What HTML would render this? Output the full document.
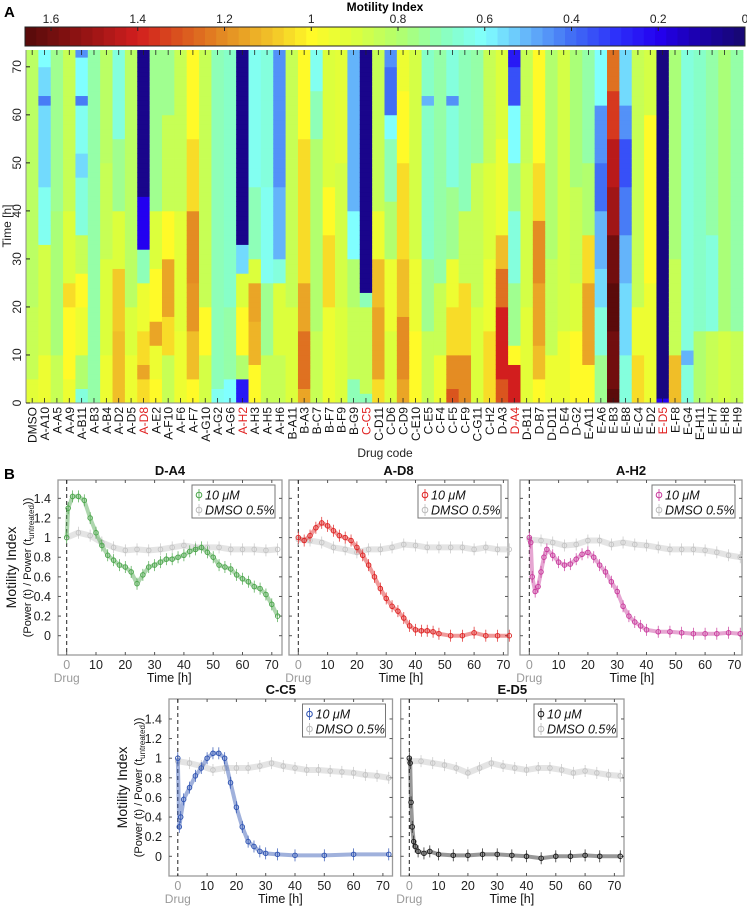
<!DOCTYPE html>
<html><head><meta charset="utf-8"><style>
html,body{margin:0;padding:0;background:#fff;}
svg{display:block;font-family:"Liberation Sans",Arial,sans-serif;}
</style></head><body>
<svg id="fig" width="747" height="906" viewBox="0 0 747 906" xmlns="http://www.w3.org/2000/svg">
<text x="4" y="17" font-size="15" font-weight="bold">A</text>
<text x="4" y="479" font-size="15" font-weight="bold">B</text>
<text x="385" y="11" font-size="12" font-weight="bold" text-anchor="middle">Motility Index</text>
<g id="cbar"></g>
<g id="heat"></g>
<g id="lines"></g>
</svg>
<script>
const NS="http://www.w3.org/2000/svg";
function mk(tag,attrs,parent){const e=document.createElementNS(NS,tag);for(const k in attrs)e.setAttribute(k,attrs[k]);parent.appendChild(e);return e;}

// ---------- Heatmap data ----------
const drugCodes=["DMSO","A-A10","A-A5","A-A9","A-B11","A-B3","A-B4","A-D2","A-D5","A-D8","A-E2","A-F10","A-F6","A-F7","A-G10","A-G2","A-G6","A-H2","A-H3","A-H5","A-H6","B-A11","B-A3","B-C7","B-F7","B-F9","B-G9","C-C5","C-D11","C-D6","C-D9","C-E10","C-E5","C-F4","C-F5","C-F9","C-G11","C-H2","D-A3","D-A4","D-B11","D-B7","D-D11","D-E4","D-G2","E-A11","E-A6","E-B3","E-B8","E-C4","E-D2","E-D5","E-F8","E-G4","E-H11","E-H7","E-H8","E-H9"];
const highlighted=["A-D8","A-H2","C-C5","D-A4","E-D5"];
const timeTicks=[0,10,20,30,40,50,60,70];
const cbarTicks=[1.6,1.4,1.2,1,0.8,0.6,0.4,0.2,0];
const profiles=[
[[0,0.92],[5,0.85],[20,0.82]],
[[0,0.95],[10,0.88],[33,0.62],[45,0.55],[62,0.42],[64,0.55],[70,0.6]],
[[0,0.85],[10,0.78],[40,0.75]],
[[0,0.95],[5,1.0],[20,1.05],[25,0.9],[40,0.85]],
[[0,0.65],[3,0.8],[10,0.95],[20,1.0],[27,0.85],[35,0.65],[47,0.55],[52,0.62],[62,0.42],[64,0.6],[72,0.45]],
[[0,0.72]],
[[0,0.95],[10,0.9],[30,0.85],[50,0.82]],
[[0,1.1],[15,1.08],[28,0.9],[40,0.75],[55,0.65]],
[[0,0.95],[10,0.9],[20,0.82]],
[[0,1.05],[5,1.15],[8,1.05],[15,0.95],[25,0.7],[32,0.2],[43,0.05]],
[[0,1.0],[5,0.95],[12,1.15],[17,1.0],[28,0.9],[40,0.75]],
[[0,0.85],[10,1.05],[18,1.15],[30,1.0],[40,0.85],[60,0.75]],
[[0,0.95],[15,0.92],[40,0.85]],
[[0,1.0],[5,1.1],[15,1.18],[25,1.2],[40,1.05],[55,1.0]],
[[0,0.88],[10,1.0],[20,0.85]],
[[0,0.62],[3,0.7]],
[[0,0.6],[5,0.72],[20,0.68]],
[[0,0.25],[5,0.8],[10,1.0],[20,0.9],[27,0.55],[33,0.05]],
[[0,1.0],[8,1.12],[17,1.15],[25,0.9],[30,0.7],[45,0.62]],
[[0,0.85],[10,0.75],[25,0.62],[45,0.65]],
[[0,0.85],[10,0.9],[25,0.65],[30,0.5],[45,0.45]],
[[0,0.9],[20,0.85]],
[[0,1.15],[3,1.25],[15,1.15],[25,1.05],[55,1.0]],
[[0,0.85],[15,0.8],[55,0.7],[65,0.62]],
[[0,0.95],[20,1.05],[35,1.0],[45,0.9]],
[[0,0.9],[20,0.88],[50,0.92]],
[[0,0.7],[5,0.85],[20,0.8],[30,0.6],[40,0.5]],
[[0,0.7],[2,0.85],[20,0.7],[23,0.05]],
[[0,1.05],[5,1.15],[20,1.1],[30,0.95],[40,0.85]],
[[0,0.9],[15,0.95],[30,0.8],[42,0.7],[55,0.6],[60,0.4],[70,0.45]],
[[0,1.15],[5,1.2],[18,1.1],[30,1.05],[50,1.0],[65,0.95]],
[[0,1.0],[15,0.95],[30,0.88]],
[[0,0.85],[15,0.75],[30,0.68],[62,0.5],[64,0.68]],
[[0,0.95],[10,0.85],[25,0.72]],
[[0,1.3],[3,1.2],[10,1.05],[20,0.95],[30,0.75],[45,0.65],[62,0.45],[64,0.65]],
[[0,1.2],[10,1.05],[25,0.85],[40,0.7]],
[[0,0.9],[20,0.85],[50,0.72]],
[[0,1.05],[15,0.95],[30,0.9],[50,0.85]],
[[0,1.3],[5,1.4],[20,1.25],[28,1.1],[35,0.95],[55,0.9]],
[[0,1.4],[8,1.0],[12,0.75],[25,0.65],[40,0.75],[50,0.6],[62,0.35],[70,0.25]],
[[0,0.92],[20,0.88],[50,0.85]],
[[0,1.0],[5,1.1],[12,1.15],[25,1.2],[38,1.05],[50,1.0]],
[[0,0.95],[10,0.85],[30,0.8]],
[[0,0.95],[15,0.88]],
[[0,1.0],[15,0.9],[25,0.85],[45,0.78]],
[[0,1.0],[8,1.15],[25,1.05],[35,0.8],[50,0.72]],
[[0,0.75],[10,0.65],[20,0.55],[28,0.5],[40,0.4],[50,0.45],[62,0.6]],
[[0,1.65],[3,1.6],[15,1.65],[25,1.6],[35,1.5],[45,1.45],[55,1.35],[65,1.25]],
[[0,0.65],[10,0.55],[25,0.5],[35,0.42],[45,0.35],[55,0.45],[62,0.55]],
[[0,1.05],[10,0.95],[20,0.85]],
[[0,0.95],[25,1.0],[45,1.0],[60,0.88]],
[[0,0.2],[1.5,0.03]],
[[0,1.1],[10,0.85],[30,0.78]],
[[0,0.65],[8,0.5],[11,0.65]],
[[0,0.8],[15,0.68]],
[[0,0.85],[15,0.65],[35,0.72]],
[[0,0.88],[15,0.78]],
[[0,0.85],[15,0.72]]
];

const cmStops=[[0,[22,8,110]],[0.12,[28,0,180]],[0.2,[35,0,240]],[0.3,[45,50,250]],[0.4,[65,110,245]],[0.5,[100,180,250]],[0.6,[128,255,255]],[0.68,[135,255,200]],[0.78,[170,255,120]],[0.9,[220,255,60]],[1.0,[255,250,40]],[1.1,[240,190,40]],[1.2,[228,140,35]],[1.3,[218,85,30]],[1.4,[210,30,30]],[1.52,[150,20,20]],[1.66,[85,10,10]]];
function cmap(v){v=Math.max(0,Math.min(1.66,v));for(let i=1;i<cmStops.length;i++){if(v<=cmStops[i][0]){const a=cmStops[i-1],b=cmStops[i],f=(v-a[0])/(b[0]-a[0]);const c=a[1].map((x,j)=>Math.round(x+(b[1][j]-x)*f));return`rgb(${c[0]},${c[1]},${c[2]})`;}}return"rgb(85,10,10)";}

const cb=document.getElementById('cbar');
const cbL=25,cbR=745,cbT=27,cbB=46,vMax=1.66;
const cbX=v=>cbR-(v/vMax)*(cbR-cbL);
const nb=64;
for(let i=0;i<nb;i++){const v=vMax*(1-(i+0.5)/nb);
const r=mk('rect',{x:cbL+i*(cbR-cbL)/nb,y:cbT,width:(cbR-cbL)/nb+0.5,height:cbB-cbT,fill:cmap(v)},cb);

}
mk('rect',{x:cbL,y:cbT,width:cbR-cbL,height:cbB-cbT,fill:'none',stroke:'#222','stroke-width':1},cb);
cbarTicks.forEach(v=>{const x=cbX(v);
mk('line',{x1:x,x2:x,y1:cbT,y2:cbT+4,stroke:'#222'},cb);
const t=mk('text',{x:x,y:23,'font-size':12,'text-anchor':'middle',fill:'#222'},cb);t.textContent=String(v);

});

const hm=document.getElementById('heat');
const hL=26,hR=743,hT=50,hB=403,tMax=73.5;
const colW=(hR-hL)/drugCodes.length;
const hY=t=>hB-(t/tMax)*(hB-hT);
function valAt(p,t){let v=p[0][1];for(const s of p){if(t>=s[0])v=s[1];}return v;}
drugCodes.forEach((d,i)=>{
  const g=mk('g',{},hm);
  
  
  for(let t=0;t<tMax;t+=1){
    const v=valAt(profiles[i],t+0.5);
    const y1=hY(Math.min(t+1,tMax)),y0=hY(t);
    const c=mk('rect',{x:hL+i*colW,y:y1,width:colW+0.4,height:y0-y1+0.4,fill:cmap(v)},g);
    
    
  }
  const cx=hL+(i+0.5)*colW;
  mk('line',{x1:cx,x2:cx,y1:hT,y2:hT+5,stroke:'#222','stroke-width':0.8},hm);
  mk('line',{x1:cx,x2:cx,y1:hB,y2:hB-5,stroke:'#222','stroke-width':0.8},hm);
  const lab=mk('text',{transform:`translate(${cx+4.5},407) rotate(-90)`,'font-size':12,'text-anchor':'end',fill:highlighted.includes(d)?'#e02020':'#111'},hm);
  lab.textContent=d;
  
  
});
mk('line',{x1:hL,x2:hL,y1:hT,y2:hB,stroke:'#888','stroke-width':1},hm);
mk('line',{x1:hL,x2:hR,y1:hB,y2:hB,stroke:'#888','stroke-width':1},hm);
timeTicks.forEach(t=>{const y=hY(t);
mk('line',{x1:hL,x2:hL+4,y1:y,y2:y,stroke:'#222'},hm);
const tl=mk('text',{transform:`translate(${hL-5},${y}) rotate(-90)`,'font-size':12,'text-anchor':'middle',fill:'#222'},hm);tl.textContent=String(t);

});
{const a=mk('text',{transform:'translate(11,226) rotate(-90)','font-size':12,'text-anchor':'middle',fill:'#222'},hm);a.textContent='Time [h]';


const b=mk('text',{x:385,y:457,'font-size':12,'text-anchor':'middle',fill:'#222'},hm);b.textContent='Drug code';

}

// ---------- Line panel data ----------
const xTicks=[0,10,20,30,40,50,60,70];
const yTicks=[0,0.2,0.4,0.6,0.8,1,1.2,1.4];
const dmsoTimes=[0,4,8,12,16,20,24,28,32,36,40,44,48,52,56,60,64,68,72];
const da4Times=[0,0.5,2,4,6,8,10,12,14,16,18,20,22,24,26,28,30,32,34,36,38,40,42,44,46,48,50,52,54,56,58,60,62,64,66,68,70,72];
const da4Vals=[1.0,1.3,1.42,1.42,1.38,1.2,1.05,0.92,0.82,0.77,0.72,0.7,0.65,0.53,0.62,0.7,0.72,0.75,0.78,0.78,0.8,0.82,0.86,0.88,0.9,0.85,0.8,0.72,0.7,0.68,0.62,0.58,0.55,0.5,0.48,0.42,0.32,0.2];
const da4Dmso=[1.0,1.05,1.02,0.95,0.9,0.87,0.88,0.87,0.88,0.9,0.92,0.9,0.9,0.9,0.88,0.88,0.88,0.87,0.88];
const ad8Times=[0,2,4,6,8,10,12,14,16,18,20,22,24,26,28,30,32,34,36,38,40,42,44,46,48,52,56,60,64,68,72];
const ad8Vals=[1.0,0.97,1.02,1.1,1.15,1.12,1.07,1.02,1.0,0.97,0.9,0.82,0.72,0.6,0.48,0.38,0.3,0.25,0.18,0.1,0.06,0.05,0.05,0.04,0.02,0.0,0.0,0.03,0.0,0.0,0.0];
const ad8Dmso=[0.98,0.97,0.95,0.9,0.88,0.85,0.88,0.88,0.9,0.93,0.92,0.9,0.9,0.9,0.9,0.88,0.9,0.88,0.88];
const ah2Times=[0,0.5,1,2,3,4,5,6,8,10,12,14,16,18,20,22,24,26,28,30,32,34,36,38,40,44,48,52,56,60,64,68,72];
const ah2Vals=[1.0,0.95,0.6,0.45,0.5,0.65,0.8,0.88,0.82,0.75,0.72,0.73,0.78,0.83,0.85,0.8,0.72,0.65,0.55,0.45,0.3,0.2,0.14,0.1,0.06,0.04,0.04,0.03,0.02,0.02,0.02,0.03,0.02];
const ah2Dmso=[0.98,0.97,0.95,0.92,0.93,0.97,0.97,0.93,0.95,0.93,0.92,0.9,0.88,0.88,0.88,0.87,0.85,0.82,0.8];
const cc5Times=[0,0.5,1,2,4,6,8,10,12,14,16,18,20,22,24,26,28,30,34,40,50,60,72];
const cc5Vals=[1.0,0.3,0.4,0.58,0.7,0.82,0.9,1.0,1.05,1.05,1.0,0.75,0.5,0.3,0.15,0.1,0.05,0.03,0.02,0.01,0.01,0.02,0.02];
const cc5Dmso=[0.97,0.95,0.92,0.88,0.9,0.9,0.9,0.92,0.95,0.92,0.9,0.88,0.88,0.87,0.86,0.85,0.83,0.82,0.8];
const ed5Times=[0,0.3,0.6,1,1.5,2,3,5,7,10,15,20,25,30,35,40,45,50,55,60,65,72];
const ed5Vals=[1.0,0.95,0.55,0.3,0.15,0.1,0.05,0.03,0.05,0.02,0.01,0.01,0.02,0.02,0.01,0.0,-0.02,0.0,0.0,0.01,0.0,0.0];
const ed5Dmso=[0.97,0.97,0.95,0.93,0.9,0.85,0.9,0.95,0.92,0.9,0.88,0.9,0.9,0.88,0.85,0.87,0.85,0.83,0.82];

const panels=[
 {name:'D-A4',times:da4Times,vals:da4Vals,dmso:da4Dmso,color:'#4aa54a',L:58,R:282,T:480,B:655,x0:66.7,y0:635.7,ylab:true},
 {name:'A-D8',times:ad8Times,vals:ad8Vals,dmso:ad8Dmso,color:'#de2222',L:289,R:508,T:480,B:655,x0:298.3,y0:635.7,ylab:false},
 {name:'A-H2',times:ah2Times,vals:ah2Vals,dmso:ah2Dmso,color:'#c8399c',L:520,R:742,T:480,B:655,x0:529.3,y0:635.7,ylab:false},
 {name:'C-C5',times:cc5Times,vals:cc5Vals,dmso:cc5Dmso,color:'#2d52b2',L:169,R:392.5,T:699,B:876,x0:177.8,y0:856.3,ylab:true},
 {name:'E-D5',times:ed5Times,vals:ed5Vals,dmso:ed5Dmso,color:'#1a1a1a',L:400.7,R:624,T:699,B:876,x0:409.3,y0:856.3,ylab:false}
];
const pxH=2.93,pxU=98.1;
const LG=document.getElementById('lines');
panels.forEach(p=>{
 const g=mk('g',{},LG);
 
 
 const X=t=>p.x0+t*pxH, Y=v=>p.y0-v*pxU;
 mk('rect',{x:p.L,y:p.T,width:p.R-p.L,height:p.B-p.T,fill:'#fff',stroke:'#9a9a9a','stroke-width':1.3},g);
 const ti=mk('text',{x:(p.L+p.R)/2,y:p.T-5,'font-size':13,'font-weight':'bold','text-anchor':'middle',fill:'#111'},g);ti.textContent=p.name;
 
 
 xTicks.forEach(t=>{const x=X(t);
  mk('line',{x1:x,x2:x,y1:p.B,y2:p.B-3,stroke:'#555'},g);mk('line',{x1:x,x2:x,y1:p.T,y2:p.T+3,stroke:'#555'},g);
  const l=mk('text',{x:x,y:p.B+14,'font-size':12.5,'text-anchor':'middle',fill:t===0?'#999':'#222'},g);l.textContent=String(t);
  
  });
 yTicks.forEach(v=>{const y=Y(v);
  mk('line',{x1:p.L,x2:p.L+3,y1:y,y2:y,stroke:'#555'},g);mk('line',{x1:p.R,x2:p.R-3,y1:y,y2:y,stroke:'#555'},g);
  if(p.ylab){const l=mk('text',{x:p.L-7,y:y+4.5,'font-size':12.5,'text-anchor':'end',fill:'#222'},g);l.textContent=String(v);
  
  }});
 const dr=mk('text',{x:X(0),y:p.B+27,'font-size':12,'text-anchor':'middle',fill:'#999'},g);dr.textContent='Drug';
 
 
 const xt=mk('text',{x:X(35),y:p.B+27,'font-size':12.5,'text-anchor':'middle',fill:'#111'},g);xt.textContent='Time [h]';
 
 
 if(p.ylab){
  const a=mk('text',{transform:`translate(${p.L-42},${(p.T+p.B)/2}) rotate(-90)`,'font-size':14,'text-anchor':'middle',fill:'#111'},g);a.textContent='Motility Index';
  
  
  const b=mk('text',{transform:`translate(${p.L-27},${(p.T+p.B)/2}) rotate(-90)`,'font-size':11,'text-anchor':'middle',fill:'#111'},g);
  b.innerHTML='(Power (t) / Power (t<tspan font-size="8" dy="3">untreated</tspan><tspan dy="-3">))</tspan>';
  
  }
 mk('line',{x1:X(0),x2:X(0),y1:p.T,y2:p.B,stroke:'#222','stroke-dasharray':'4,3','stroke-width':1},g);
 function series(ts,vs,col,w,nm){
  const s=mk('g',{},g);
  
  
  mk('polyline',{points:ts.map((t,i)=>X(t)+','+Y(vs[i])).join(' '),fill:'none',stroke:col,'stroke-width':w,'stroke-opacity':0.45,'stroke-linejoin':'round'},s);
  ts.forEach((t,i)=>{const c=mk('circle',{cx:X(t),cy:Y(vs[i]),r:2.3,fill:'none',stroke:col,'stroke-width':0.9},s);
   
   
   mk('line',{x1:X(t),x2:X(t),y1:Y(vs[i])-6,y2:Y(vs[i])+6,stroke:col,'stroke-width':0.7},s);});
 }
 series(dmsoTimes,p.dmso,'#c4c4c4',6,'dmso-series');
 series(p.times,p.vals,p.color,4,'drug-series');
 const lg=mk('g',{},g);
 
 
 const lx=p.R-90,ly=p.T+5;
 mk('rect',{x:lx,y:ly,width:83,height:33,fill:'#fff',stroke:'#777','stroke-width':1},lg);
 [[p.color,'10 μM'],['#bbb','DMSO 0.5%']].forEach((e,k)=>{const yy=ly+10+k*15;
  mk('circle',{cx:lx+7,cy:yy,r:2.8,fill:'none',stroke:e[0]},lg);
  mk('line',{x1:lx+7,x2:lx+7,y1:yy-6,y2:yy+6,stroke:e[0],'stroke-width':0.8},lg);
  const t=mk('text',{x:lx+13,y:yy+4.5,'font-size':12.5,'font-style':'italic',fill:'#111'},lg);t.textContent=e[1];
  
  });
});
</script>
</body></html>
